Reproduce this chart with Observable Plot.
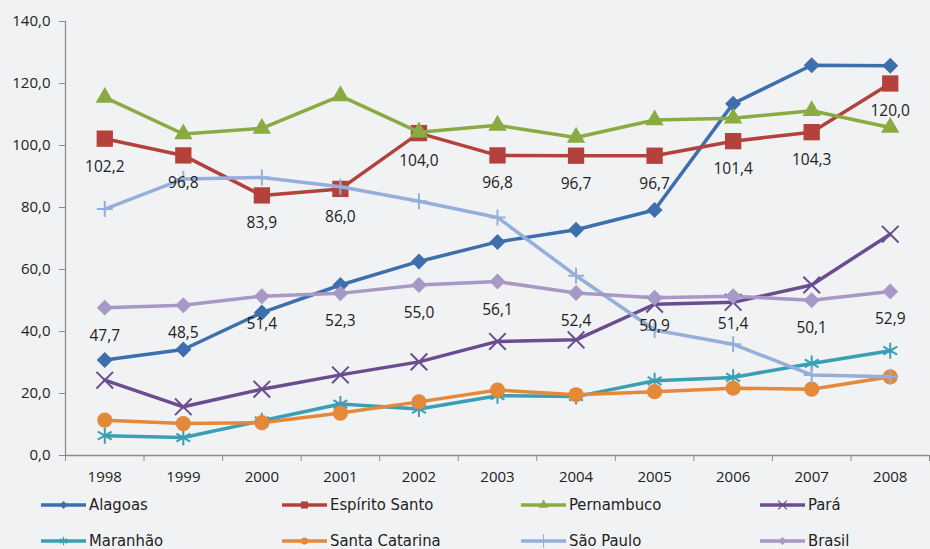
<!DOCTYPE html>
<html>
<head>
<meta charset="utf-8">
<script src="https://cdn.jsdelivr.net/npm/d3@7"></script>
<script src="https://cdn.jsdelivr.net/npm/@observablehq/plot@0.6"></script>
<style>
  html, body { margin: 0; padding: 0; background: #f1f2f4; }
  #wrap { position: relative; width: 930px; height: 549px; background: #f1f2f4; overflow: hidden; }
  #legend { position: absolute; left: 0; top: 485px; width: 930px; height: 64px; }
  .item { position: absolute; height: 20px; display: flex; align-items: center; }
  .item span { font-family: "Liberation Sans Narrow", "DejaVu Sans Condensed", sans-serif; font-size: 16.5px; color: #222; margin-left: 3px; white-space: nowrap; line-height: 18px; }
</style>
</head>
<body>
<div id="wrap">
  <div id="chart"></div>
  <div id="legend"></div>
</div>
<script>
const years = [1998, 1999, 2000, 2001, 2002, 2003, 2004, 2005, 2006, 2007, 2008];
const yTicks = [0, 20, 40, 60, 80, 100, 120, 140];

const alagoas       = [30.8, 34.2, 46.1, 55.0, 62.6, 68.9, 72.8, 79.2, 113.5, 125.9, 125.7];
const espiritoSanto = [102.2, 96.8, 83.9, 86.0, 104.0, 96.8, 96.7, 96.7, 101.4, 104.3, 120.0];
const pernambuco    = [115.5, 103.7, 105.5, 116.0, 104.3, 106.5, 102.6, 108.2, 108.8, 111.2, 105.8];
const para          = [24.3, 15.7, 21.4, 26.0, 30.2, 36.8, 37.3, 48.8, 49.4, 55.0, 71.4];
const maranhao      = [6.4, 5.8, 11.2, 16.6, 15.0, 19.3, 19.0, 24.1, 25.2, 29.7, 33.8];
const santaCatarina = [11.4, 10.3, 10.6, 13.7, 17.3, 21.1, 19.6, 20.6, 21.7, 21.4, 25.4];
const saoPaulo      = [79.5, 89.2, 89.7, 86.7, 82.0, 76.8, 58.0, 40.5, 35.9, 26.0, 25.4];
const brasil        = [47.7, 48.5, 51.4, 52.3, 55.0, 56.1, 52.4, 50.9, 51.4, 50.1, 52.9];

const seriesNames = ["Alagoas", "Espírito Santo", "Pernambuco", "Pará", "Maranhão", "Santa Catarina", "São Paulo", "Brasil"];
const seriesValues = [alagoas, espiritoSanto, pernambuco, para, maranhao, santaCatarina, saoPaulo, brasil];
const labelledSeries = ["Espírito Santo", "Brasil"];

// styles (kept separate from data)
const styles = {
  "Alagoas":        {color: "#3d6fad", symbol: "diamond2", r: 7.2, filled: true,  lsym: d3.symbolDiamond2, lsize: 40},
  "Espírito Santo": {color: "#b3423d", symbol: "square",   r: 9.2, filled: true,  lsym: d3.symbolSquare,   lsize: 50},
  "Pernambuco":     {color: "#8aab41", symbol: "triangle", r: 6.8, filled: true,  lsym: d3.symbolTriangle, lsize: 40},
  "Pará":           {color: "#6a4d91", symbol: "times",    r: 7.6, filled: false, lsym: d3.symbolTimes,    lsize: 50},
  "Maranhão":       {color: "#3a9fb5", symbol: "asterisk", r: 7.6, filled: false, lsym: d3.symbolAsterisk, lsize: 50},
  "Santa Catarina": {color: "#e4883a", symbol: "circle",   r: 7.6, filled: true,  lsym: d3.symbolCircle,   lsize: 40},
  "São Paulo":      {color: "#95afdb", symbol: "plus",     r: 5.2, filled: false, lsym: d3.symbolPlus,     lsize: 60},
  "Brasil":         {color: "#a898c6", symbol: "diamond2", r: 7.2, filled: true,  lsym: d3.symbolDiamond2, lsize: 40}
};

const fmt = v => v.toFixed(1).replace(".", ",");
const font = "'Open Sans', sans-serif";

const marks = [
  Plot.ruleX([1997.5], {stroke: "#8c8c8c", strokeWidth: 1.3}),
  Plot.ruleY([0], {stroke: "#8c8c8c", strokeWidth: 1.3}),
  Plot.axisY({ticks: yTicks, tickSize: 6, tickPadding: 9, tickFormat: fmt, stroke: "#8c8c8c", fill: "#222", label: null, fontSize: 15, fontFamily: font}),
  Plot.axisX({ticks: d3.range(1997.5, 2009, 1), tickSize: 6, tickFormat: () => "", stroke: "#8c8c8c", label: null}),
  Plot.axisX({ticks: years, tickSize: 0, tickPadding: 16, tickFormat: d => String(d), fill: "#222", label: null, fontSize: 15, fontFamily: font})
];

seriesNames.forEach((name, si) => {
  const st = styles[name];
  const rows = years.map((yr, i) => ({year: yr, value: seriesValues[si][i], series: name}));
  marks.push(Plot.line(rows, {x: "year", y: "value", stroke: st.color, strokeWidth: 3.5, strokeLinejoin: "round"}));
  if (st.filled) {
    marks.push(Plot.dot(rows, {x: "year", y: "value", symbol: st.symbol, r: st.r, fill: st.color, stroke: "none"}));
  } else {
    marks.push(Plot.dot(rows, {x: "year", y: "value", symbol: st.symbol, r: st.r, fill: "none", stroke: st.color, strokeWidth: 2}));
  }
});

seriesNames.forEach((name, si) => {
  if (!labelledSeries.includes(name)) return;
  const rows = years.map((yr, i) => ({year: yr, value: seriesValues[si][i]}));
  marks.push(Plot.text(rows, {x: "year", y: "value", text: d => fmt(d.value), dy: 28, fill: "#222", fontSize: 15.5, fontFamily: font}));
});

const chart = Plot.plot({
  width: 930,
  height: 485,
  marginLeft: 65,
  marginRight: 1,
  marginTop: 21,
  marginBottom: 30,
  style: {background: "#f1f2f4", fontFamily: font, fontSize: "15px", color: "#222"},
  x: {domain: [1997.5, 2008.5], axis: null},
  y: {domain: [0, 140], axis: null},
  marks
});
document.getElementById("chart").appendChild(chart);

// legend
const legend = d3.select("#legend");
const cols = [41, 282, 521, 760];
const rowsY = [19.7, 55.5];
seriesNames.forEach((name, i) => {
  const st = styles[name];
  const item = legend.append("div").attr("class", "item")
    .style("left", cols[i % 4] + "px")
    .style("top", (rowsY[Math.floor(i / 4)] - 10) + "px");
  const svg = item.append("svg").attr("width", 45).attr("height", 20);
  svg.append("line").attr("x1", 0).attr("x2", 45).attr("y1", 10).attr("y2", 10)
    .attr("stroke", st.color).attr("stroke-width", 3.5);
  const p = svg.append("path").attr("transform", "translate(22.5,10)")
    .attr("d", d3.symbol(st.lsym, st.lsize)());
  if (st.filled) p.attr("fill", st.color);
  else p.attr("fill", "none").attr("stroke", st.color).attr("stroke-width", 1.2);
  item.append("span").text(name);
});
</script>
</body>
</html>
